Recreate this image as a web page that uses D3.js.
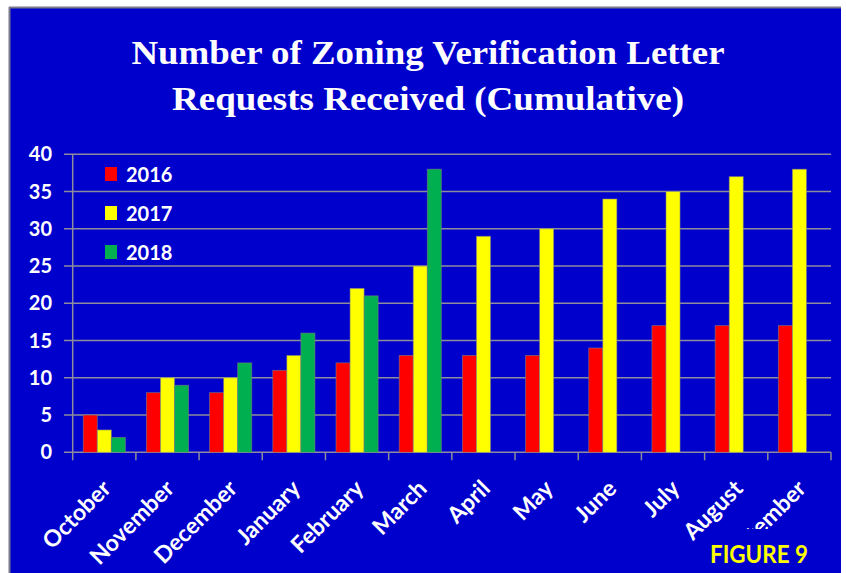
<!DOCTYPE html>
<html><head><meta charset="utf-8">
<script src="https://cdn.jsdelivr.net/npm/d3@7"></script>
<style>html,body{margin:0;padding:0;background:#fff;}svg{display:block;}</style>
</head><body>
<script>
const months = ["October","November","December","January","February","March","April","May","June","July","August","September"];
const series = ["2016","2017","2018"];
const values2016 = [5,8,8,11,12,13,13,13,14,17,17,17];
const values2017 = [3,10,10,13,22,25,29,30,34,35,37,38];
const values2018 = [2,9,12,16,21,38,null,null,null,null,null,null];
const colors = ["#FF0000","#FFFF00","#00B050"];
const yTicks = [0,5,10,15,20,25,30,35,40];
const titleLines = ["Number of Zoning Verification Letter","Requests Received (Cumulative)"];
const figureLabel = "FIGURE 9";

const W = 846, H = 573;
const svg = d3.select("body").append("svg").attr("width", W).attr("height", H);

svg.append("rect").attr("x",0).attr("y",0).attr("width",W).attr("height",H).attr("fill","#fff");
svg.append("rect").attr("x",10).attr("y",8).attr("width",831).attr("height",H-8).attr("fill","#0000CC");
svg.append("line").attr("x1",9).attr("x2",841).attr("y1",7.5).attr("y2",7.5).attr("stroke","#7a7a8a").attr("stroke-width",2);
svg.append("line").attr("x1",9.5).attr("x2",9.5).attr("y1",7).attr("y2",H).attr("stroke","#7a7a8a").attr("stroke-width",2);

// title
const tl = [{t:titleLines[0], y:64, len:593},{t:titleLines[1], y:110, len:512}];
svg.selectAll("text.title").data(tl).join("text").attr("class","title")
  .attr("x",428).attr("y",d=>d.y).attr("text-anchor","middle")
  .attr("textLength",d=>d.len).attr("lengthAdjust","spacingAndGlyphs")
  .attr("font-family","'Liberation Serif', 'DejaVu Serif', serif").attr("font-weight","bold")
  .attr("font-size",34).attr("fill","#fff").text(d=>d.t);

const x0 = d3.scaleBand().domain(months).range([72.7, 831]).paddingInner(0).paddingOuter(0);
const bw = x0.bandwidth();
const x1 = d3.scaleBand().domain(series).range([bw/6, bw*5/6]).padding(0);
const y = d3.scaleLinear().domain([0,40]).range([452.3, 154.3]);

// gridlines
svg.append("g").selectAll("line").data(yTicks).join("line")
  .attr("x1",64).attr("x2",831).attr("y1",d=>y(d)).attr("y2",d=>y(d))
  .attr("stroke","#8c8c9c").attr("stroke-width",1.5);
// y axis line
svg.append("line").attr("x1",72.7).attr("x2",72.7).attr("y1",y(40)).attr("y2",y(0))
  .attr("stroke","#8c8c9c").attr("stroke-width",1.5);
// x ticks
const bounds = months.map(m=>x0(m)).concat([x0(months[months.length-1])+bw]);
svg.append("g").selectAll("line").data(bounds).join("line")
  .attr("x1",d=>d).attr("x2",d=>d).attr("y1",y(0)).attr("y2",y(0)+8)
  .attr("stroke","#8c8c9c").attr("stroke-width",1.5);

// y labels
svg.append("g").selectAll("text").data(yTicks).join("text")
  .attr("x",52).attr("y",d=>y(d)+7).attr("text-anchor","end")
  .attr("font-family","Lato, sans-serif").attr("font-weight","bold").attr("font-size",20)
  .attr("fill","#fff").text(d=>d);

// bars
const allVals = [values2016, values2017, values2018];
const barData = [];
months.forEach((m,i)=>series.forEach((s,j)=>{
  const v = allVals[j][i];
  if (v !== null && v !== undefined) barData.push({m, s, v, c: colors[j]});
}));
svg.append("g").selectAll("rect").data(barData).join("rect")
  .attr("x",d=>x0(d.m)+x1(d.s)).attr("width",x1.bandwidth())
  .attr("y",d=>y(d.v)).attr("height",d=>y(0)-y(d.v))
  .attr("fill",d=>d.c).attr("stroke","rgba(128,128,128,0.7)").attr("stroke-width",0.8);

// x labels (last one clipped as in the original)
svg.append("defs").append("clipPath").attr("id","lblclip")
  .append("rect").attr("x",0).attr("y",0).attr("width",W).attr("height",529);
const xg = svg.append("g");
months.forEach((m,i)=>{
  const holder = (i===months.length-1) ? xg.append("g").attr("clip-path","url(#lblclip)") : xg;
  holder.append("text")
    .attr("transform",`translate(${x0(m)+bw/2+8},${490}) rotate(-45)`)
    .attr("text-anchor","end")
    .attr("font-family","Lato, sans-serif").attr("font-weight","bold").attr("font-size",23)
    .attr("fill","#fff").text(m);
});

// legend
const lg = svg.append("g");
series.forEach((s,i)=>{
  const cy = 174 + i*39;
  lg.append("rect").attr("x",105).attr("y",cy-7).attr("width",12).attr("height",14).attr("fill",colors[i]);
  lg.append("text").attr("x",126).attr("y",cy+8).attr("font-family","Lato, sans-serif")
    .attr("font-weight","bold").attr("font-size",20).attr("fill","#fff").text(s);
});

svg.append("text").attr("x",710).attr("y",563).attr("textLength",98).attr("lengthAdjust","spacingAndGlyphs")
  .attr("font-family","Lato, sans-serif").attr("font-weight","bold").attr("font-size",24)
  .attr("fill","#FFFF00").text(figureLabel);
</script>
</body></html>
